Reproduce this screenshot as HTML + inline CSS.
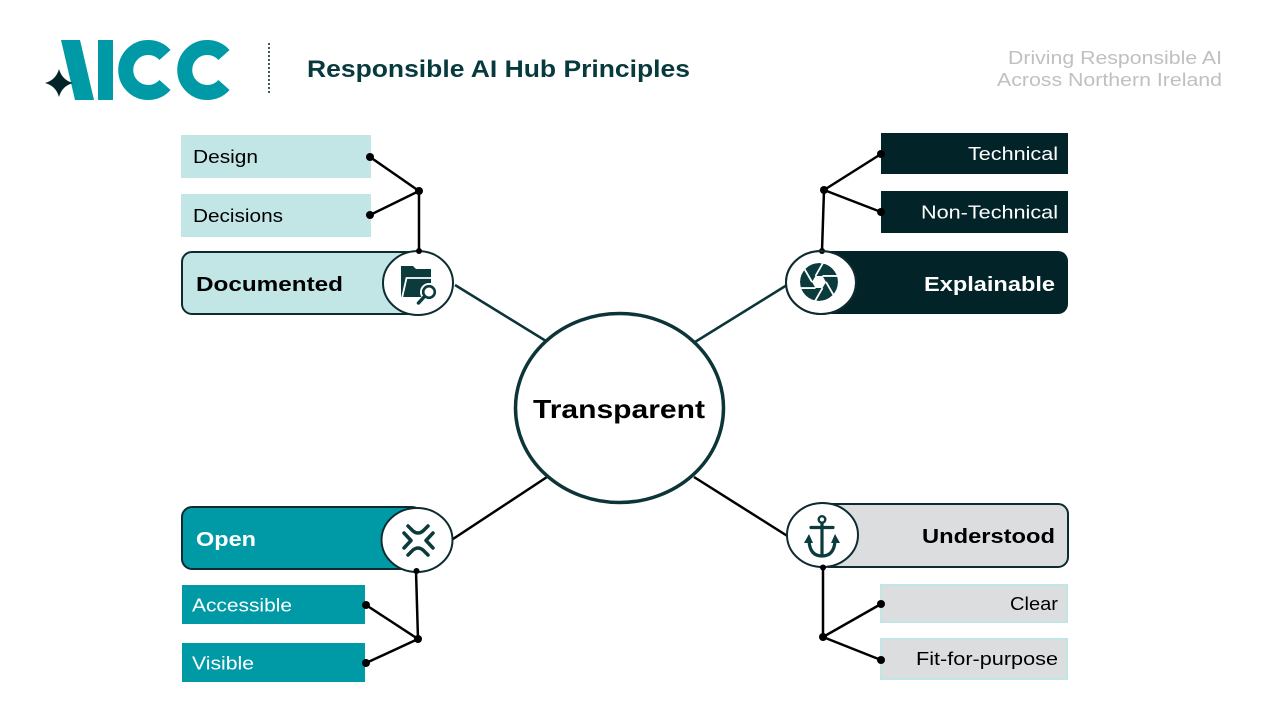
<!DOCTYPE html>
<html>
<head>
<meta charset="utf-8">
<style>
  html,body{margin:0;padding:0;background:#ffffff;}
  svg{display:block;}
  text{font-family:"Liberation Sans",sans-serif;}
</style>
</head>
<body>
<svg width="1280" height="720" viewBox="0 0 1280 720" xmlns="http://www.w3.org/2000/svg">
  <rect width="1280" height="720" fill="#ffffff"/>

  <!-- Logo -->
  <polygon points="61,40 80,40 94,100 75,100" fill="#009aa6"/>
  <rect x="98" y="40" width="15" height="60" fill="#009aa6"/>
  <path d="M165,55 A22.5,22.5 0 1 0 165,85" fill="none" stroke="#009aa6" stroke-width="15"/>
  <path d="M224,55 A22.5,22.5 0 1 0 224,85" fill="none" stroke="#009aa6" stroke-width="15"/>
  <path d="M59,69 Q62,80 73,83 Q62,86 59,97 Q56,86 45,83 Q56,80 59,69 Z" fill="#022428"/>

  <!-- separator -->
  <line x1="269" y1="43" x2="269" y2="93" stroke="#022428" stroke-width="1.5" stroke-dasharray="2 2"/>

  <!-- Title -->
  <text x="307" y="77" font-size="24" font-weight="bold" fill="#073a3e" textLength="383" lengthAdjust="spacingAndGlyphs">Responsible AI Hub Principles</text>

  <text x="1008" y="64" font-size="18" fill="#c0c0c0" textLength="214" lengthAdjust="spacingAndGlyphs">Driving Responsible AI</text>
  <text x="997" y="86" font-size="18" fill="#c0c0c0" textLength="225" lengthAdjust="spacingAndGlyphs">Across Northern Ireland</text>

  <!-- Connectors center -->
  <line x1="455" y1="285" x2="546" y2="341" stroke="#0d3538" stroke-width="2.5"/>
  <line x1="695" y1="342" x2="787" y2="285" stroke="#0d3538" stroke-width="2.5"/>
  <line x1="453" y1="539" x2="547" y2="477" stroke="#000" stroke-width="2.5"/>
  <line x1="789" y1="537" x2="694" y2="477" stroke="#000" stroke-width="2.5"/>

  <!-- Center circle -->
  <ellipse cx="619.5" cy="408" rx="104" ry="94.5" fill="#ffffff" stroke="#0d3538" stroke-width="3.5"/>
  <text x="533" y="418" font-size="26" font-weight="bold" fill="#000" textLength="172" lengthAdjust="spacingAndGlyphs">Transparent</text>

  <!-- ===== Documented ===== -->
  <rect x="181" y="135" width="190" height="43" fill="#c2e6e6"/>
  <rect x="181" y="194" width="190" height="43" fill="#c2e6e6"/>
  <text x="193" y="163" font-size="18" fill="#000" textLength="65" lengthAdjust="spacingAndGlyphs">Design</text>
  <text x="193" y="222" font-size="18" fill="#000" textLength="90" lengthAdjust="spacingAndGlyphs">Decisions</text>
  <g stroke="#000" stroke-width="2.5">
    <line x1="370" y1="157" x2="419" y2="191"/>
    <line x1="370" y1="215" x2="419" y2="191"/>
    <line x1="419" y1="191" x2="419" y2="252"/>
  </g>
  <g fill="#000">
    <circle cx="370" cy="157" r="4"/>
    <circle cx="370" cy="215" r="4"/>
    <circle cx="419" cy="191" r="4"/>
  </g>
  <rect x="182" y="252" width="240" height="62" rx="10" fill="#c2e6e6" stroke="#0d2b30" stroke-width="2"/>
  <ellipse cx="418" cy="283" rx="35" ry="32" fill="#ffffff" stroke="#0d2b30" stroke-width="2"/>
  <circle cx="419" cy="251" r="3" fill="#000"/>
  <text x="196" y="291" font-size="20" font-weight="bold" fill="#000" textLength="147" lengthAdjust="spacingAndGlyphs">Documented</text>
  <!-- folder icon -->
  <path d="M401,266 h12 l3,3 h15 v28 h-30 z" fill="#0b3b3c"/>
  <path d="M402,298 l4.5,-20 h26" fill="none" stroke="#ffffff" stroke-width="1.8"/>
  <circle cx="429" cy="292" r="9" fill="#ffffff"/>
  <line x1="424" y1="297" x2="418.5" y2="303" stroke="#0b3b3c" stroke-width="3.5" stroke-linecap="round"/>
  <circle cx="429" cy="292" r="5.8" fill="#ffffff" stroke="#0b3b3c" stroke-width="2.6"/>

  <!-- ===== Explainable ===== -->
  <rect x="881" y="133" width="187" height="41" fill="#022428"/>
  <rect x="881" y="191" width="187" height="42" fill="#022428"/>
  <text x="968" y="160" font-size="18" fill="#ffffff" textLength="90" lengthAdjust="spacingAndGlyphs">Technical</text>
  <text x="921" y="218.5" font-size="18" fill="#ffffff" textLength="137" lengthAdjust="spacingAndGlyphs">Non-Technical</text>
  <g stroke="#000" stroke-width="2.5">
    <line x1="881" y1="154" x2="824" y2="190"/>
    <line x1="881" y1="212" x2="824" y2="190"/>
    <line x1="824" y1="190" x2="822" y2="251"/>
  </g>
  <g fill="#000">
    <circle cx="881" cy="154" r="4"/>
    <circle cx="881" cy="212" r="4"/>
    <circle cx="824" cy="190" r="4"/>
  </g>
  <rect x="818" y="251" width="250" height="63" rx="10" fill="#022428"/>
  <ellipse cx="821" cy="282.5" rx="35" ry="31.5" fill="#ffffff" stroke="#0d2b30" stroke-width="2"/>
  <circle cx="822" cy="251" r="3" fill="#000"/>
  <text x="924" y="291" font-size="20" font-weight="bold" fill="#ffffff" textLength="131" lengthAdjust="spacingAndGlyphs">Explainable</text>
  <!-- aperture icon -->
  <circle cx="819" cy="282" r="19" fill="#0b3b3c"/>
  <polygon points="826,282 822.5,288.06 815.5,288.06 812,282 815.5,275.94 822.5,275.94" fill="#ffffff"/>
  <g stroke="#ffffff" stroke-width="1.8">
    <line x1="826" y1="282" x2="836" y2="299.3"/>
    <line x1="822.5" y1="288.06" x2="812.5" y2="305.4"/>
    <line x1="815.5" y1="288.06" x2="795.5" y2="288.06"/>
    <line x1="812" y1="282" x2="802" y2="264.7"/>
    <line x1="815.5" y1="275.94" x2="825.5" y2="258.6"/>
    <line x1="822.5" y1="275.94" x2="842.5" y2="275.94"/>
  </g>
  <ellipse cx="819" cy="282" rx="23" ry="23" fill="none" stroke="#ffffff" stroke-width="8"/>
  <ellipse cx="821" cy="282.5" rx="35" ry="31.5" fill="none" stroke="#0d2b30" stroke-width="2"/>

  <!-- ===== Open ===== -->
  <rect x="182" y="585" width="183" height="39" fill="#009aa6"/>
  <rect x="182" y="643" width="183" height="39" fill="#009aa6"/>
  <text x="192" y="611.5" font-size="18" fill="#ffffff" textLength="100" lengthAdjust="spacingAndGlyphs">Accessible</text>
  <text x="192" y="669.5" font-size="18" fill="#ffffff" textLength="62" lengthAdjust="spacingAndGlyphs">Visible</text>
  <g stroke="#000" stroke-width="2.5">
    <line x1="366" y1="605" x2="418" y2="639"/>
    <line x1="366" y1="663" x2="418" y2="639"/>
    <line x1="418" y1="639" x2="416" y2="571"/>
  </g>
  <g fill="#000">
    <circle cx="366" cy="605" r="4"/>
    <circle cx="366" cy="663" r="4"/>
    <circle cx="418" cy="639" r="4"/>
  </g>
  <rect x="182" y="507" width="240" height="62" rx="10" fill="#009aa6" stroke="#0d2b30" stroke-width="2"/>
  <ellipse cx="417" cy="540" rx="35.5" ry="32" fill="#ffffff" stroke="#0d2b30" stroke-width="2"/>
  <circle cx="416.5" cy="571" r="3" fill="#000"/>
  <text x="196" y="546" font-size="20" font-weight="bold" fill="#ffffff" textLength="60" lengthAdjust="spacingAndGlyphs">Open</text>
  <!-- open icon -->
  <g fill="none" stroke="#0b3b3c" stroke-width="3.5" stroke-linecap="round" stroke-linejoin="round">
    <path d="M408,526 l5,5 q5,4 10,0 l5,-5"/>
    <path d="M408,555 l5,-5 q5,-4 10,0 l5,5"/>
    <path d="M404,533 l7,7.5 l-7,7.5"/>
    <path d="M433,533 l-7,7.5 l7,7.5"/>
  </g>

  <!-- ===== Understood ===== -->
  <rect x="881" y="585" width="186" height="37" fill="#dcdddf" stroke="#c2e6e6" stroke-width="2"/>
  <rect x="881" y="639" width="186" height="40" fill="#dcdddf" stroke="#c2e6e6" stroke-width="2"/>
  <text x="1010" y="610" font-size="18" fill="#000" textLength="48" lengthAdjust="spacingAndGlyphs">Clear</text>
  <text x="916" y="665" font-size="18" fill="#000" textLength="142" lengthAdjust="spacingAndGlyphs">Fit-for-purpose</text>
  <g stroke="#000" stroke-width="2.5">
    <line x1="881" y1="604" x2="823" y2="637"/>
    <line x1="881" y1="660" x2="823" y2="637"/>
    <line x1="823" y1="637" x2="823" y2="567"/>
  </g>
  <g fill="#000">
    <circle cx="881" cy="604" r="4"/>
    <circle cx="881" cy="660" r="4"/>
    <circle cx="823" cy="637" r="4"/>
  </g>
  <rect x="819" y="504" width="249" height="63" rx="10" fill="#dcdddf" stroke="#0d2b30" stroke-width="2"/>
  <ellipse cx="822.5" cy="535" rx="35.5" ry="32" fill="#ffffff" stroke="#0d2b30" stroke-width="2"/>
  <circle cx="823" cy="567.5" r="3" fill="#000"/>
  <text x="922" y="543" font-size="20" font-weight="bold" fill="#000" textLength="133" lengthAdjust="spacingAndGlyphs">Understood</text>
  <!-- anchor icon -->
  <g fill="none" stroke="#0b3b3c" stroke-width="3.2" stroke-linecap="round">
    <circle cx="822" cy="519.5" r="3.3" stroke-width="2.4"/>
    <line x1="822" y1="523" x2="822" y2="556"/>
    <line x1="811" y1="527.5" x2="833" y2="527.5"/>
    <path d="M809,541 Q810,556 822,556 Q834,556 835,541"/>
  </g>
  <polygon points="804,543 809,534 813,543" fill="#0b3b3c"/>
  <polygon points="831,543 835,534 840,543" fill="#0b3b3c"/>
</svg>
</body>
</html>
